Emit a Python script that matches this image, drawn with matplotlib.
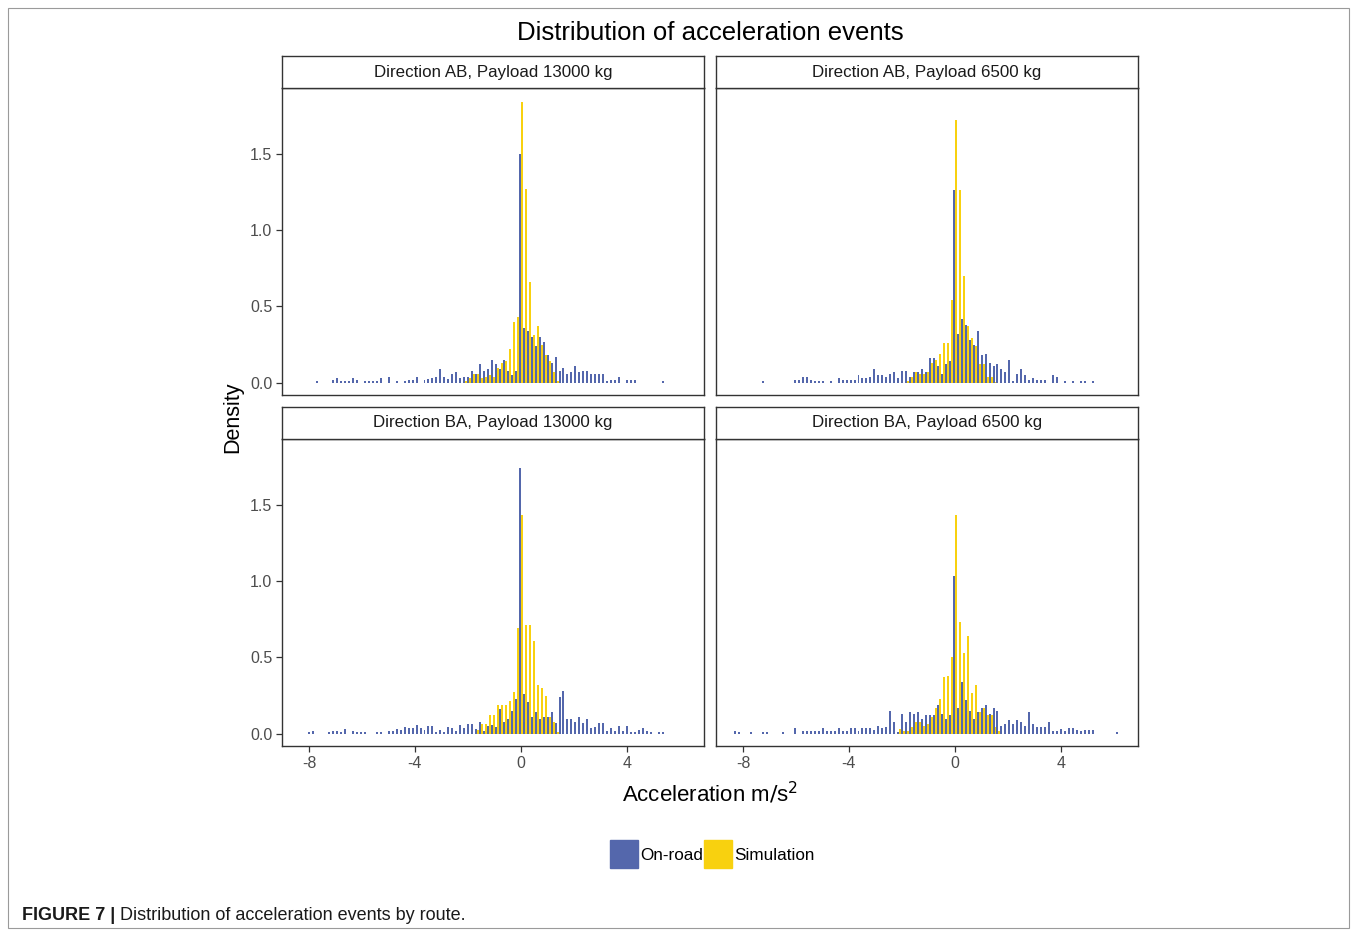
import numpy as np
import matplotlib
matplotlib.use("Agg")
import matplotlib.pyplot as plt
from matplotlib.patches import Rectangle

plt.rcParams['font.family'] = ['Liberation Sans', 'DejaVu Sans']

# ---------------- data ----------------
BIN_WIDTH = 0.15  # histogram bin width (m/s^2); bins centred on multiples of it

panel_titles = ["Direction AB, Payload 13000 kg", "Direction AB, Payload 6500 kg",
                "Direction BA, Payload 13000 kg", "Direction BA, Payload 6500 kg"]
series_names = ["On-road", "Simulation"]

# first bin index (k, bin centre = k * BIN_WIDTH) of each series
ab13_onroad_k0 = -51
ab13_onroad = [0.01, 0, 0, 0, 0.02, 0.03, 0.01, 0.01, 0.01, 0.03, 0.02, 0, 0.01, 0.01, 0.01, 0.01,
               0.03, 0, 0.04, 0, 0.01, 0, 0.01, 0.015, 0.02, 0.04, 0, 0.015, 0.025, 0.03, 0.035,
               0.09, 0.035, 0.025, 0.06, 0.07, 0.03, 0.035, 0.04, 0.08, 0.06, 0.12, 0.08, 0.09,
               0.15, 0.12, 0.09, 0.15, 0.08, 0.05, 0.08,
               1.50, 0.36, 0.34, 0.30, 0.24, 0.30, 0.27, 0.18, 0.13, 0.17, 0.08, 0.10, 0.06,
               0.07, 0.11, 0.07, 0.08, 0.08, 0.06, 0.06, 0.06, 0.06, 0.01, 0.02, 0.015, 0.04,
               0, 0.02, 0.015, 0.02, 0, 0, 0, 0, 0, 0, 0.01]
ab13_sim_k0 = -14
ab13_sim = [0.01, 0.03, 0.06, 0.06, 0.03, 0.04, 0.05, 0.04, 0.10, 0.13, 0.14, 0.22, 0.40, 0.43,
            1.84, 1.27, 0.66, 0.31, 0.37, 0.25, 0.18, 0.14, 0.07, 0.01]

ab65_onroad_k0 = -48
ab65_onroad = [0.01, 0, 0, 0, 0, 0, 0, 0, 0.015, 0.02, 0.035, 0.035, 0.02, 0.01, 0.01, 0.01, 0,
               0.01, 0, 0.03, 0.02, 0.02, 0.02, 0.02, 0.05, 0.03, 0.03, 0.04, 0.09, 0.05, 0.05,
               0.04, 0.06, 0.07, 0.03, 0.08, 0.08, 0.04, 0.07, 0.07, 0.09, 0.07, 0.16, 0.16,
               0.11, 0.06, 0.12, 0.14,
               1.26, 0.32, 0.42, 0.38, 0.28, 0.25, 0.34, 0.18, 0.19, 0.13, 0.11, 0.12, 0.09,
               0.07, 0.15, 0.01, 0.06, 0.09, 0.05, 0.02, 0.03, 0.02, 0.02, 0.02, 0, 0.05, 0.04,
               0, 0.01, 0, 0.01, 0, 0.01, 0.01, 0, 0.01]
ab65_sim_k0 = -12
ab65_sim = [0.01, 0.04, 0.07, 0.06, 0.06, 0.07, 0.13, 0.15, 0.19, 0.26, 0.26, 0.54,
            1.72, 1.26, 0.70, 0.37, 0.29, 0.24, 0.12, 0.12, 0.04, 0.04, 0.005]

ba13_onroad_k0 = -53
ba13_onroad = [0.01, 0.015, 0, 0, 0, 0.01, 0.015, 0.015, 0.01, 0.03, 0, 0.015, 0.01, 0.01, 0.01,
               0, 0, 0.01, 0.01, 0, 0.02, 0.02, 0.03, 0.025, 0.045, 0.035, 0.035, 0.055, 0.035,
               0.025, 0.05, 0.05, 0.01, 0.025, 0.01, 0.045, 0.035, 0.02, 0.055, 0.035, 0.065,
               0.065, 0.03, 0.08, 0.02, 0.05, 0.06, 0.045, 0.16, 0.075, 0.10, 0.15, 0.23,
               1.74, 0.26, 0.21, 0.11, 0.14, 0.10, 0.11, 0.11, 0.14, 0.07, 0.24, 0.28, 0.10,
               0.10, 0.08, 0.11, 0.07, 0.10, 0.035, 0.045, 0.07, 0.07, 0.02, 0.035, 0.02, 0.05,
               0.02, 0.05, 0.01, 0.01, 0.025, 0.035, 0.02, 0.01, 0, 0.01, 0.01]
ba13_sim_k0 = -11
ba13_sim = [0.025, 0.065, 0.065, 0.12, 0.12, 0.19, 0.19, 0.19, 0.215, 0.275, 0.69,
            1.43, 0.71, 0.71, 0.61, 0.32, 0.30, 0.245, 0.11, 0.08, 0.01]

ba65_onroad_k0 = -55
ba65_onroad = [0.015, 0.01, 0, 0, 0.01, 0, 0, 0.01, 0.01, 0, 0, 0, 0.01, 0, 0, 0.035, 0, 0.015,
               0.02, 0.02, 0.015, 0.02, 0.035, 0.015, 0.015, 0.015, 0.035, 0.02, 0.015, 0.035,
               0.035, 0.02, 0.035, 0.035, 0.035, 0.025, 0.05, 0.035, 0.045, 0.15, 0.075, 0.01,
               0.13, 0.075, 0.14, 0.13, 0.14, 0.10, 0.125, 0.125, 0.125, 0.19, 0.13, 0.10, 0.125,
               1.03, 0.17, 0.34, 0.22, 0.15, 0.10, 0.14, 0.17, 0.19, 0.13, 0.17, 0.15, 0.05,
               0.065, 0.09, 0.065, 0.09, 0.075, 0.05, 0.14, 0.065, 0.045, 0.045, 0.045, 0.075,
               0.015, 0.015, 0.03, 0.015, 0.04, 0.035, 0.025, 0.015, 0.025, 0.025, 0.025,
               0, 0, 0, 0, 0, 0.01]
ba65_sim_k0 = -14
ba65_sim = [0.03, 0.015, 0.015, 0.045, 0.08, 0.08, 0.05, 0.065, 0.11, 0.17, 0.23, 0.375, 0.38,
            0.50, 1.43, 0.73, 0.53, 0.64, 0.27, 0.32, 0.14, 0.17, 0.125, 0.125, 0.045, 0.015]

panels = [
    (ab13_onroad_k0, ab13_onroad, ab13_sim_k0, ab13_sim),
    (ab65_onroad_k0, ab65_onroad, ab65_sim_k0, ab65_sim),
    (ba13_onroad_k0, ba13_onroad, ba13_sim_k0, ba13_sim),
    (ba65_onroad_k0, ba65_onroad, ba65_sim_k0, ba65_sim),
]

x_ticks = [-8, -4, 0, 4]
y_ticks = [0.0, 0.5, 1.0, 1.5]

# ---------------- styling ----------------
BLUE = "#5467AC"
YELLOW = "#F8D10F"
W, H = 1357, 935
fig = plt.figure(figsize=(W / 100, H / 100), dpi=100)


def box(x0, y0, x1, y1):
    return [x0 / W, 1 - y1 / H, (x1 - x0) / W, (y1 - y0) / H]


# outer frame
fig.patches.append(Rectangle((8 / W, 1 - 928 / H), (1349 - 8) / W, (928 - 8) / H,
                             transform=fig.transFigure, fill=False, edgecolor="#9a9a9a",
                             linewidth=0.8))

cols = [(282, 704), (716, 1138)]
rows = [(56, 88, 395), (407, 439, 746)]

for i, (k0b, blue, k0y, yel) in enumerate(panels):
    r, c = divmod(i, 2)
    x0, x1 = cols[c]
    s0, p0, p1 = rows[r]
    ax = fig.add_axes(box(x0, p0, x1, p1))
    xb = (k0b + np.arange(len(blue))) * BIN_WIDTH
    xy = (k0y + np.arange(len(yel))) * BIN_WIDTH
    bw = BIN_WIDTH / 2
    ax.bar(xb - bw / 2, blue, width=bw, color=BLUE, linewidth=0, antialiased=False)
    ax.bar(xy + bw / 2, yel, width=bw, color=YELLOW, linewidth=0, antialiased=False)
    ax.set_xlim(-9.02, 6.92)
    ax.set_ylim(-0.08, 1.93)
    ax.set_xticks(x_ticks)
    ax.set_yticks(y_ticks)
    for sp in ax.spines.values():
        sp.set_color("#333333")
        sp.set_linewidth(1.0)
    ax.tick_params(axis="both", length=4, width=0.9, color="#333333",
                   labelsize=11.5, labelcolor="#4D4D4D", pad=3)
    if c == 0:
        ax.set_yticklabels([f"{v:.1f}" for v in y_ticks])
    else:
        ax.tick_params(axis="y", left=False, labelleft=False)
    if r == 0:
        ax.tick_params(axis="x", bottom=False, labelbottom=False)
    else:
        ax.set_xticklabels([str(v) for v in x_ticks])
    # strip
    sax = fig.add_axes(box(x0, s0, x1, p0))
    sax.set_xticks([])
    sax.set_yticks([])
    sax.set_facecolor("white")
    for sp in sax.spines.values():
        sp.set_color("#333333")
        sp.set_linewidth(1.0)
    sax.text(0.5, 0.5, panel_titles[i], ha="center", va="center", fontsize=12.2,
             color="#1a1a1a", transform=sax.transAxes)

# titles and axis labels
fig.text(710 / W, 1 - 33 / H, "Distribution of acceleration events", ha="center",
         va="center", fontsize=18.5, color="black")
fig.text(710 / W, 1 - 794 / H, r"Acceleration m$/$s$^{2}$", ha="center", va="center",
         fontsize=16, color="black")
fig.text(233 / W, 1 - 417 / H, "Density", ha="center", va="center", rotation=90,
         fontsize=15.5, color="black")

# legend
fig.patches.append(Rectangle((610 / W, 1 - 868 / H), 28 / W, 28 / H,
                             transform=fig.transFigure, color=BLUE))
fig.patches.append(Rectangle((704 / W, 1 - 868 / H), 28 / W, 28 / H,
                             transform=fig.transFigure, color=YELLOW))
fig.text(640 / W, 1 - 855 / H, series_names[0], ha="left", va="center", fontsize=12.3)
fig.text(734 / W, 1 - 855 / H, series_names[1], ha="left", va="center", fontsize=12.3)

# caption
t1 = fig.text(22 / W, 1 - 915 / H, "FIGURE 7 |", ha="left", va="center", fontsize=13,
              fontweight="bold", color="#1a1a1a")
fig.canvas.draw()
bb = t1.get_window_extent()
fig.text((bb.x1 + 5) / W, 1 - 915 / H, "Distribution of acceleration events by route.",
         ha="left", va="center", fontsize=13, color="#1a1a1a")

fig.savefig("out.png", dpi=100)
